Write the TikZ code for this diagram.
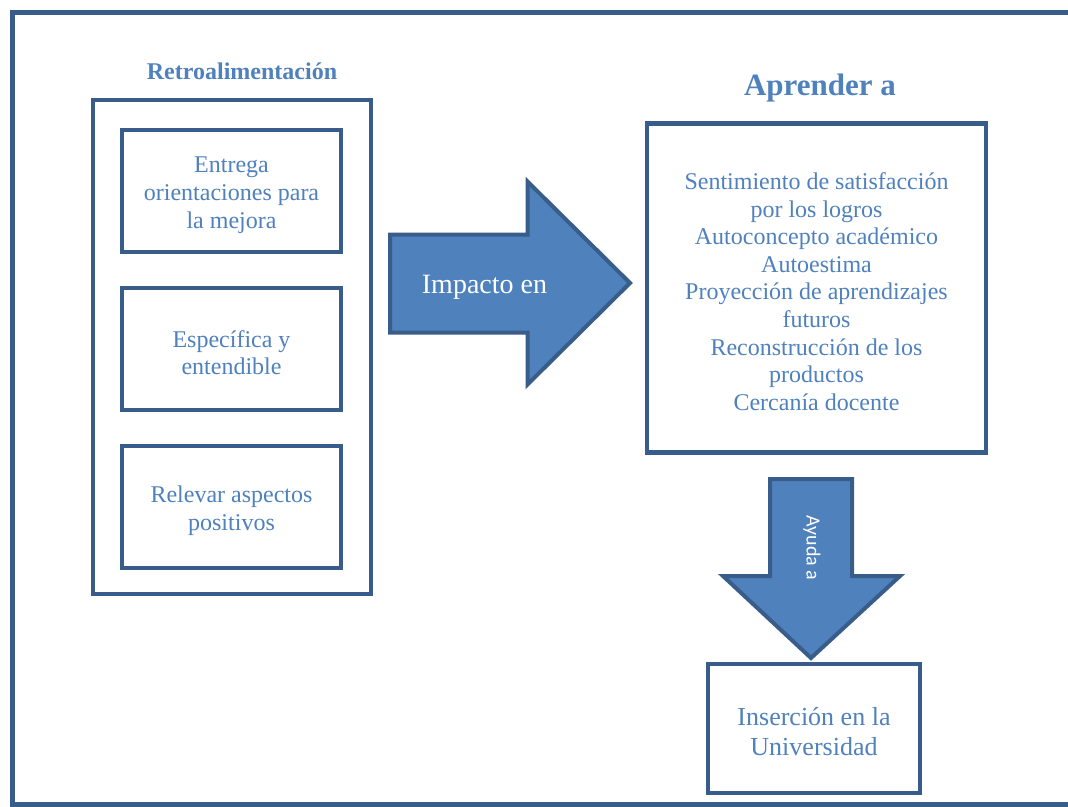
\documentclass[tikz,border=0pt]{standalone}
\usepackage{fontspec}
\setmainfont{Liberation Serif}
\newfontfamily\ayudafont{Carlito}
\definecolor{edge}{RGB}{56,93,138}
\definecolor{accent}{RGB}{79,129,189}
\newcommand\toprow{\rule{0pt}{24pt}}
\tikzset{
  box/.style={draw=edge,line width=4.5pt,fill=white,align=center,text=accent,
    inner sep=0pt,font=\fontsize{24}{27.6}\selectfont},
  blockarrow/.style={draw=edge,line width=4pt,fill=accent},
  heading/.style={text=accent,anchor=base,font=\bfseries\fontsize{24}{27.6}\selectfont}
}
\begin{document}
\begin{tikzpicture}[x=1pt,y=-1pt]
\useasboundingbox (0,0) rectangle (1068,806);
\fill[white] (0,0) rectangle (1068,806);
\draw[edge,line width=4.5pt] (12.5,804.5) rectangle (1090,12.5);

% left column
\node[heading] (retro) at (242,79) {Retroalimentación};
\node[box,minimum width=278pt,minimum height=494pt] (left) at (232,347) {};
\node[box,minimum width=219pt,minimum height=122pt] (entrega) at (231.5,191)
  {\toprow Entrega\\orientaciones para\\la mejora};
\node[box,minimum width=219pt,minimum height=122pt] (especifica) at (231.5,349)
  {\toprow Específica y\\entendible};
\node[box,minimum width=219pt,minimum height=122pt] (relevar) at (231.5,507)
  {\toprow Relevar aspectos\\positivos};

% arrow to the right
\draw[blockarrow] (390,234.5) -- (527.5,234.5) -- (527.5,181.5) -- (630,283)
  -- (527.5,384.5) -- (527.5,332.5) -- (390,332.5) -- cycle;
\node[anchor=base,text=white,font=\fontsize{28}{32}\selectfont] (impacto) at (484.5,293) {Impacto en};

% right column
\node[heading,font=\bfseries\fontsize{31}{36}\selectfont] (aprender) at (820,95) {Aprender a};
\node[box,minimum width=339pt,minimum height=329pt] (logros) at (816.5,288)
  {\toprow Sentimiento de satisfacción\\por los logros\\Autoconcepto académico\\Autoestima\\
   Proyección de aprendizajes\\futuros\\Reconstrucción de los\\productos\\Cercanía docente};

\draw[blockarrow] (770,479) -- (852,479) -- (852,576) -- (900,576) -- (811,658)
  -- (723,576) -- (770,576) -- cycle;
\node[rotate=-90,text=white,font=\ayudafont\fontsize{20}{24}\selectfont] (ayuda) at (812,548) {Ayuda a};

\node[box,minimum width=212pt,minimum height=129pt,font=\fontsize{26}{30}\selectfont] (insercion) at (814,728.5)
  {\toprow Inserción en la\\Universidad};
\end{tikzpicture}
\end{document}
